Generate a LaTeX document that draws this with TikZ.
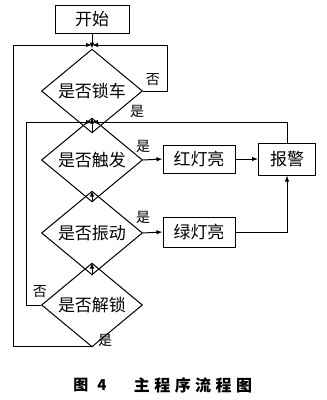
\documentclass[tikz,border=0pt]{standalone}
\usepackage{fontspec}
\newfontfamily\cjk{Noto Sans CJK SC}
\usetikzlibrary{shapes.geometric,arrows.meta}
\begin{document}
\begin{tikzpicture}[x=1pt,y=-1pt,line width=1pt,
  box/.style={draw,rectangle,inner sep=0pt,font=\cjk\fontsize{17}{17}\selectfont},
  dia/.style={draw,diamond,inner sep=0pt,minimum width=101pt,minimum height=52pt,font=\cjk\fontsize{17}{17}\selectfont},
  lbl/.style={inner sep=0pt,font=\cjk\fontsize{14}{14}\selectfont},
  arr/.style={-{Latex[length=6pt,width=4.5pt]}}]
\useasboundingbox (0,0) rectangle (327,400);
\node[box,minimum width=74pt,minimum height=28pt] (start) at (92,19) {开始};
\node[dia] (d1) at (92,91) {是否锁车};
\node[dia] (d2) at (92,160) {是否触发};
\node[dia] (d3) at (92,233) {是否振动};
\node[dia] (d4) at (92,305) {是否解锁};
\node[box,minimum width=72pt,minimum height=28pt] (red) at (199,159) {红灯亮};
\node[box,minimum width=57pt,minimum height=32pt] (alarm) at (287,159) {报警};
\node[box,minimum width=72pt,minimum height=30pt] (green) at (199,232) {绿灯亮};
\coordinate (m1) at (92,45);
\coordinate (m2) at (92,122);
\coordinate (r1) at (167,45);
\coordinate (l2) at (26,122);
\coordinate (b1) at (92,346);
\coordinate (l1) at (13,45);
\draw (start) -- (m1);
\draw[arr] (m1) -- (d1.north);
\draw[arr] (d1.east) -| (r1) -- (m1);
\draw (d1.south) -- (m2);
\draw[arr] (m2) -- (d2.north);
\draw[arr] (d2.east) -- (red.west);
\draw[arr] (red) -- (alarm);
\draw[arr] (alarm.north) |- (m2);
\draw[arr] (d2.south) -- (d3.north);
\draw[arr] (d3.east) -- (green.west);
\draw[arr] (green.east) -| (alarm.south);
\draw[arr] (d3.south) -- (d4.north);
\draw[arr] (d4.west) -| (l2) -- (m2);
\draw[arr] (d4.south) -- (b1) -| (l1) -- (m1);
\node[lbl] (n1) at (153,80) {否};
\node[lbl] (y1) at (137,111) {是};
\node[lbl] (y2) at (143,146) {是};
\node[lbl] (y3) at (143,217) {是};
\node[lbl] (n4) at (40,292) {否};
\node[lbl] (y4) at (105,340) {是};
\node[inner sep=0pt,font=\cjk\bfseries\fontsize{15}{15}\selectfont] (cap1) at (90,385) {图\hspace{9pt}4};
\node[inner sep=0pt,font=\cjk\bfseries\fontsize{16}{16}\selectfont\addfontfeatures{LetterSpace=28}] (cap2) at (193,385) {主程序流程图};
\end{tikzpicture}
\end{document}
